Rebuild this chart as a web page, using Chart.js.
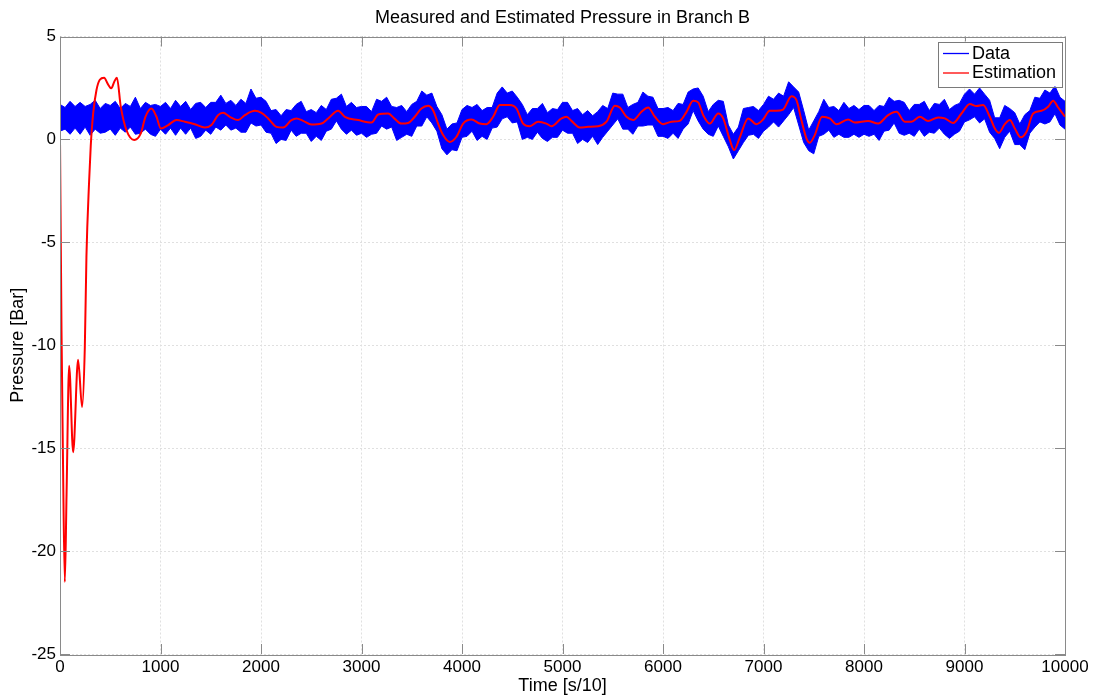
<!DOCTYPE html>
<html>
<head>
<meta charset="utf-8">
<script src="https://cdn.jsdelivr.net/npm/chart.js@4.4.1/dist/chart.umd.min.js"></script>
<style>
  html, body { margin: 0; padding: 0; background: #ffffff; }
  canvas { display: block; }
</style>
</head>
<body>
<canvas id="chart" width="1098" height="697"></canvas>
<script>
// Axis ticks
const xTicks = [0, 1000, 2000, 3000, 4000, 5000, 6000, 7000, 8000, 9000, 10000];
const yTicks = [-25, -20, -15, -10, -5, 0, 5];

const chartTitle = 'Measured and Estimated Pressure in Branch B';

// Estimated pressure (time in s/10, pressure in bar)
const estTime = [
  0, 15, 30, 48, 65, 91, 131, 180, 220, 247, 263, 290, 306, 330, 363, 396, 439, 475, 510, 540,
  566, 605, 661, 738, 804, 850, 910, 960, 1003, 1076, 1159, 1242, 1341, 1441, 1507, 1573, 1623, 1690,
  1773, 1839, 1939, 2005, 2071, 2154, 2220, 2303, 2353, 2419, 2502, 2602, 2668, 2768, 2834, 2967,
  3100, 3166, 3265, 3331, 3397, 3464, 3530, 3596, 3663, 3712, 3762, 3812, 3878, 3945, 4011, 4094,
  4177, 4243, 4310, 4376, 4475, 4542, 4608, 4674, 4757, 4840, 4890, 4990, 5040, 5089, 5172, 5255,
  5355, 5438, 5521, 5570, 5637, 5703, 5786, 5852, 5919, 6002, 6084, 6167, 6234, 6300, 6350, 6400,
  6466, 6549, 6599, 6665, 6708, 6764, 6847, 6930, 6996, 7062, 7129, 7195, 7278, 7328, 7377, 7427,
  7460, 7510, 7583, 7659, 7726, 7842, 7908, 8041, 8140, 8240, 8323, 8406, 8472, 8555, 8638, 8738,
  8804, 8887, 8970, 9053, 9119, 9185, 9252, 9302, 9341, 9401, 9451, 9501, 9560, 9617, 9683, 9766,
  9832, 9882, 9932, 10000
];
const estValue = [
  0, -9.3, -15.7, -21.5, -17.3, -11.0, -15.2, -10.7, -13.0, -10.1, -5.7, -2.0, -0.3, 1.26, 2.4, 2.9, 3.0, 2.7, 2.48, 2.8,
  3.0, 1.58, 0.45, -0.03, 0.29, 1.1, 1.5, 1.1, 0.53, 0.7, 0.94, 0.86, 0.74, 0.58, 0.7, 1.18, 1.29, 1.1,
  0.94, 1.18, 1.39, 1.29, 1.02, 0.61, 0.58, 0.94, 1.02, 0.9, 0.72, 0.77, 1.02, 1.39, 1.1, 0.94,
  0.82, 1.21, 1.26, 1.0, 0.77, 0.8, 1.1, 1.5, 1.64, 1.42, 0.77, 0.21, -0.12, 0.13, 0.77, 0.97,
  0.77, 0.74, 1.1, 1.67, 1.67, 1.5, 0.77, 0.64, 0.86, 0.77, 0.64, 1.02, 1.1, 0.9, 0.58, 0.61,
  0.64, 0.86, 1.64, 1.55, 1.1, 0.94, 1.34, 1.55, 1.1, 0.74, 0.86, 0.9, 1.34, 1.88, 1.8, 1.18,
  0.77, 1.26, 1.02, -0.03, -0.52, 0.1, 1.02, 0.74, 0.97, 1.39, 1.39, 1.45, 2.1, 1.91, 0.94, 0.05,
  -0.16, 0.21, 1.1, 1.02, 0.74, 0.97, 0.82, 0.9, 0.77, 1.18, 1.34, 0.86, 0.86, 1.1, 0.9, 1.07,
  1.02, 0.8, 1.26, 1.72, 1.62, 1.67, 1.1, 0.53, 0.32, 0.74, 0.94, 0.53, 0.1, 0.37, 1.26, 1.39,
  1.59, 1.88, 1.55, 1.1
];

// Measured pressure: upper and lower edge of the noisy signal, one pair every 50 samples
const bandStart = 0;
const bandStep = 50;
const dataHigh = [
  1.7, 1.55, 1.85, 1.6, 1.8, 1.6, 1.7, 1.9, 1.5, 1.75, 1.65, 1.85, 1.5, 1.75, 1.6, 2.05, 1.5, 1.8, 1.65, 1.7, 1.6,
  1.8, 1.5, 1.9, 1.6, 1.85, 1.45, 1.75, 1.8, 1.55, 1.8, 1.8, 2.15, 1.75, 1.9, 1.65, 1.95, 1.75, 2.45, 2.0, 2.05,
  1.85, 1.4, 1.45, 1.15, 1.45, 1.4, 1.7, 1.85, 1.35, 1.45, 1.3, 1.65, 1.45, 1.95, 2.0, 2.2, 1.6, 1.8, 1.55, 1.6,
  1.6, 1.35, 1.95, 1.85, 2.05, 1.6, 1.55, 1.65, 1.35, 1.7, 1.85, 2.35, 2.15, 2.25, 1.6, 1.2, 0.5, 0.75, 0.8, 1.45,
  1.65, 1.55, 1.7, 1.4, 1.55, 1.55, 2.25, 2.55, 2.25, 2.35, 2.05, 1.7, 1.2, 1.5, 1.5, 1.75, 1.3, 1.5, 1.45, 1.8,
  1.8, 1.4, 1.5, 1.2, 1.4, 1.15, 1.35, 1.65, 1.5, 2.25, 2.2, 2.2, 1.55, 1.7, 1.8, 2.3, 2.1, 2.05, 1.5, 1.5,
  1.55, 1.4, 1.75, 1.7, 2.3, 2.45, 2.5, 2.1, 1.35, 1.7, 1.9, 1.85, 0.7, 0.25, 0.6, 1.5, 1.55, 1.6, 1.4, 1.7,
  2.1, 1.95, 2.25, 2.1, 2.8, 2.55, 2.3, 1.4, 0.45, 0.9, 1.35, 1.95, 1.55, 1.6, 1.4, 1.8, 1.5, 1.65, 1.45, 1.65,
  1.65, 1.4, 1.65, 1.6, 2.05, 1.85, 1.9, 1.8, 1.4, 1.7, 1.7, 1.85, 1.4, 1.75, 1.7, 1.95, 1.45, 1.65, 1.75, 2.2,
  2.45, 2.2, 2.5, 2.2, 1.9, 1.05, 1.05, 1.65, 1.5, 1.3, 0.75, 1.2, 1.4, 2.05, 2.0, 2.4, 2.25, 2.6, 2.05, 1.85
];
const dataLow = [
  0.4, 0.5, 0.25, 0.55, 0.25, 0.6, 0.2, 0.5, 0.3, 0.35, 0.5, 0.2, 0.55, 0.35, 0.6, 0.25, 0.3, 0.5, 0.25, 0.15, 0.5,
  0.25, 0.55, 0.2, 0.55, 0.25, 0.55, 0.05, 0.15, 0.45, 0.25, 0.6, 0.45, 0.7, 0.45, 0.55, 0.35, 0.35, 0.8, 0.65, 0.7,
  0.35, 0.3, -0.2, 0.0, -0.05, 0.45, 0.15, 0.3, 0.3, -0.1, 0.15, -0.05, 0.4, 0.5, 0.9, 0.5, 0.25, 0.45, 0.2, 0.3,
  0.1, 0.25, 0.3, 0.65, 0.5, 0.6, -0.05, 0.1, 0.25, 0.15, 0.65, 0.65, 1.1, 0.8, 0.4, -0.45, -0.75, -0.5, -0.55, 0.1,
  0.15, 0.4, -0.05, 0.15, 0.0, 0.55, 0.6, 1.0, 1.1, 0.8, 0.85, 0.0, 0.1, 0.0, 0.35, 0.05, -0.1, 0.1, 0.1, 0.45,
  0.3, 0.3, -0.2, 0.0, -0.15, 0.15, -0.25, 0.1, 0.4, 0.7, 1.0, 0.5, 0.5, 0.25, 0.65, 0.65, 0.7, 0.7, 0.15, 0.15,
  0.05, 0.3, 0.05, 0.5, 0.75, 1.4, 0.9, 0.5, 0.25, 0.15, 0.65, 0.15, -0.35, -0.95, -0.55, -0.15, 0.2, 0.25, 0.05, 0.4,
  0.6, 0.85, 0.6, 0.9, 1.2, 1.55, 0.7, -0.15, -0.55, -0.7, 0.15, 0.25, 0.45, 0.1, 0.25, 0.1, 0.1, 0.25, 0.1, 0.25,
  0.15, 0.25, -0.05, 0.4, 0.45, 0.8, 0.3, 0.2, 0.3, 0.15, 0.5, 0.15, 0.35, 0.3, 0.55, 0.25, 0.05, 0.25, 0.4, 0.85,
  0.95, 1.1, 0.8, 1.0, 0.35, 0.05, -0.45, 0.1, 0.4, -0.25, -0.25, -0.5, 0.3, 0.6, 0.85, 0.75, 0.85, 1.25, 0.7, 0.5
];

const BLUE = '#0000ff';
const RED = '#ff0000';
const FRAME = '#8a8a8a';
const FONT = "'Liberation Sans', Arial, Helvetica, sans-serif";

const estPoints = estTime.map((t, i) => ({ x: t, y: estValue[i] }));
const highPoints = dataHigh.map((v, i) => ({ x: bandStart + i * bandStep, y: v }));
const lowPoints = dataLow.map((v, i) => ({ x: bandStart + i * bandStep, y: v }));

Chart.defaults.font.family = FONT;
Chart.defaults.font.size = 17;
Chart.defaults.color = '#000000';

// Title centred over the plotting area
const axesTitle = {
  id: 'axesTitle',
  afterDraw(chart) {
    const { ctx, chartArea: a } = chart;
    ctx.save();
    ctx.font = '18px ' + FONT;
    ctx.fillStyle = '#000000';
    ctx.textAlign = 'center';
    ctx.textBaseline = 'middle';
    ctx.fillText(chartTitle, (a.left + a.right) / 2, 18.5);
    ctx.restore();
  }
};

// Box around the axes with inward tick marks on all four sides
const axesBox = {
  id: 'axesBox',
  afterDatasetsDraw(chart) {
    const { ctx, chartArea: a, scales } = chart;
    const len = 10;
    ctx.save();
    ctx.strokeStyle = FRAME;
    ctx.lineWidth = 1;
    ctx.beginPath();
    xTicks.forEach(v => {
      const px = Math.round(scales.x.getPixelForValue(v)) + 0.5;
      ctx.moveTo(px, a.bottom); ctx.lineTo(px, a.bottom - len);
      ctx.moveTo(px, a.top); ctx.lineTo(px, a.top + len);
    });
    yTicks.forEach(v => {
      const py = Math.round(scales.y.getPixelForValue(v)) + 0.5;
      ctx.moveTo(a.left, py); ctx.lineTo(a.left + len, py);
      ctx.moveTo(a.right, py); ctx.lineTo(a.right - len, py);
    });
    ctx.stroke();
    ctx.strokeRect(Math.round(a.left) + 0.5, Math.round(a.top) + 0.5,
                   Math.round(a.right - a.left), Math.round(a.bottom - a.top));
    ctx.restore();
  }
};

// Boxed legend in the upper-right corner of the axes
const boxLegend = {
  id: 'boxLegend',
  afterDraw(chart) {
    const { ctx, chartArea: a } = chart;
    const entries = chart.data.datasets.filter(d => d.inLegend)
      .sort((p, q) => p.legendRank - q.legendRank);
    const right = a.right - 3, top = a.top + 5;
    const w = 124, h = 45;
    const left = right - w;
    ctx.save();
    ctx.fillStyle = '#ffffff';
    ctx.fillRect(left, top, w, h);
    ctx.strokeStyle = '#7a7a7a';
    ctx.lineWidth = 1;
    ctx.strokeRect(Math.round(left) + 0.5, Math.round(top) + 0.5, w, h);
    ctx.font = '18px ' + FONT;
    ctx.textBaseline = 'middle';
    ctx.textAlign = 'left';
    entries.forEach((d, i) => {
      const y = top + 12 + i * 19.5;
      ctx.strokeStyle = d.borderColor;
      ctx.lineWidth = 1.3;
      ctx.beginPath();
      ctx.moveTo(left + 5, y); ctx.lineTo(left + 31, y);
      ctx.stroke();
      ctx.fillStyle = '#000000';
      ctx.fillText(d.label, left + 34, y + 0.5);
    });
    ctx.restore();
  }
};

new Chart(document.getElementById('chart'), {
  type: 'line',
  data: {
    datasets: [
      {
        label: 'Estimation',
        data: estPoints,
        borderColor: RED,
        borderWidth: 2,
        pointRadius: 0,
        cubicInterpolationMode: 'monotone',
        fill: false,
        order: 0,
        inLegend: true,
        legendRank: 1
      },
      {
        label: 'Data',
        data: highPoints,
        borderColor: BLUE,
        backgroundColor: BLUE,
        borderWidth: 1,
        pointRadius: 0,
        tension: 0,
        fill: '+1',
        order: 1,
        inLegend: true,
        legendRank: 0
      },
      {
        label: 'Data (lower)',
        data: lowPoints,
        borderColor: BLUE,
        borderWidth: 1,
        pointRadius: 0,
        tension: 0,
        fill: false,
        order: 2
      }
    ]
  },
  options: {
    responsive: false,
    animation: false,
    layout: { padding: { top: 36.5, left: 0, right: 33, bottom: 0 } },
    plugins: {
      legend: { display: false },
      tooltip: { enabled: false },
      title: { display: false }
    },
    scales: {
      x: {
        type: 'linear',
        min: 0,
        max: 10000,
        afterBuildTicks: s => { s.ticks = xTicks.map(v => ({ value: v })); },
        afterFit: s => { s.height = 43; },
        grid: { color: '#e0e0e0', drawTicks: false },
        border: { display: false, dash: [2, 2] },
        ticks: { padding: 3, maxRotation: 0, autoSkip: false, color: '#000000', callback: v => String(v) },
        title: { display: true, text: 'Time [s/10]', font: { size: 18 }, padding: { top: 0, bottom: 0 }, color: '#000000' }
      },
      y: {
        type: 'linear',
        min: -25,
        max: 5,
        afterBuildTicks: s => { s.ticks = yTicks.map(v => ({ value: v })); },
        afterFit: s => { s.width = 60; },
        grid: { color: '#e0e0e0', drawTicks: false },
        border: { display: false, dash: [2, 2] },
        ticks: { padding: 4, color: '#000000', callback: v => String(v) },
        title: { display: true, text: 'Pressure [Bar]', font: { size: 18 }, padding: { top: 7, bottom: 0 }, color: '#000000' }
      }
    }
  },
  plugins: [axesBox, boxLegend, axesTitle]
});
</script>
</body>
</html>
